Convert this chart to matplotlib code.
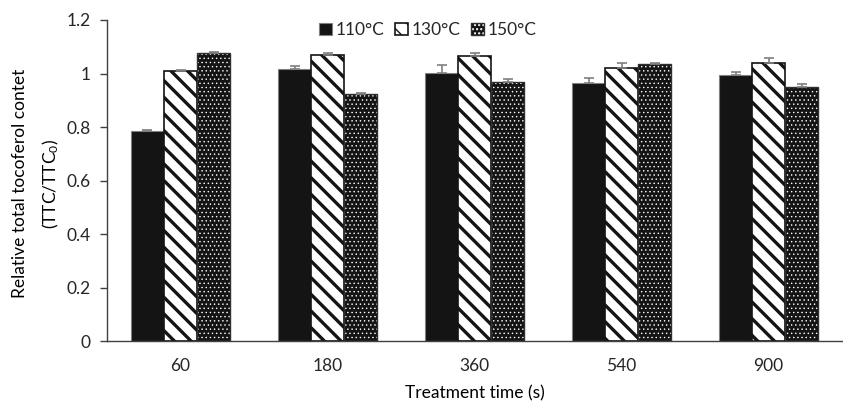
import numpy as np
import matplotlib
matplotlib.use('Agg')
import matplotlib.pyplot as plt
from matplotlib.legend_handler import HandlerTuple

# data
times = ['60', '180', '360', '540', '900']
temps = ['110°C', '130°C', '150°C']
ttc_110 = [0.785, 1.016, 1.001, 0.963, 0.993]
ttc_130 = [1.009, 1.068, 1.065, 1.022, 1.039]
ttc_150 = [1.078, 0.925, 0.969, 1.037, 0.950]
err_110 = [0.003, 0.012, 0.032, 0.020, 0.013]
err_130 = [0.003, 0.010, 0.011, 0.019, 0.018]
err_150 = [0.003, 0.003, 0.010, 0.002, 0.011]

plt.rcParams['font.family'] = ['Lato', 'DejaVu Sans']
plt.rcParams['mathtext.default'] = 'regular'
plt.rcParams['font.size'] = 12.5
plt.rcParams['text.color'] = '#262626'
plt.rcParams['xtick.color'] = '#262626'
plt.rcParams['ytick.color'] = '#262626'

fig = plt.figure(figsize=(8.43, 4.08), dpi=100)
ax = fig.add_axes([0.127, 0.164, 0.872, 0.787])

x = np.arange(len(times))
w = 0.225
dark = '#141414'
errc = '#7f7f7f'
ekw = {'elinewidth': 1.2, 'capthick': 1.2}

def upper(e):
    return [np.zeros(len(e)), e]

# 110: solid dark
b1 = ax.bar(x - w, ttc_110, w, color=dark, edgecolor='#808080', linewidth=0.8,
            yerr=upper(err_110), ecolor=errc, capsize=3.5, error_kw=ekw)

# 130: white with dark diagonal stripes
with plt.rc_context({'hatch.linewidth': 2.4}):
    b2 = ax.bar(x, ttc_130, w, facecolor='white', edgecolor=dark, linewidth=1.2,
                hatch='\\\\', yerr=upper(err_130), ecolor=errc, capsize=3.5,
                error_kw=ekw)
for p in b2:
    if hasattr(p, 'set_hatch_linewidth'):
        p.set_hatch_linewidth(2.4)

# 150: dark with white dots
with plt.rc_context({'hatch.linewidth': 0.5}):
    b3 = ax.bar(x + w, ttc_150, w, facecolor=dark, edgecolor='white', linewidth=0,
                hatch='....')
for p in b3:
    if hasattr(p, 'set_hatch_linewidth'):
        p.set_hatch_linewidth(0.5)
b3o = ax.bar(x + w, ttc_150, w, fill=False, edgecolor='#303030', linewidth=1.0,
             yerr=upper(err_150), ecolor=errc, capsize=3.5, error_kw=ekw)

ax.set_xlim(-0.5, len(times) - 0.5)
ax.set_ylim(0, 1.2)
ax.set_yticks(np.arange(0, 1.21, 0.2))
ax.set_yticklabels(['0', '0.2', '0.4', '0.6', '0.8', '1', '1.2'])
ax.set_xticks(x)
ax.set_xticklabels(times)
ax.tick_params(axis='x', length=0, pad=12)
ax.tick_params(axis='y', length=5, width=1, color='#404040', pad=7)
for s in ['top', 'right']:
    ax.spines[s].set_visible(False)
for s in ['left', 'bottom']:
    ax.spines[s].set_color('#404040')
    ax.spines[s].set_linewidth(1)

ax.set_xlabel('Treatment time (s)', labelpad=8)
ax.set_ylabel('Relative total tocoferol contet\n(TTC/TTC$_{0}$)', linespacing=1.8)
ax.yaxis.set_label_coords(-0.063, 0.49)

ax.legend([b1, b2, (b3[0], b3o[0])], temps, loc='upper center',
          bbox_to_anchor=(0.436, 1.015), ncol=3, frameon=False,
          handlelength=0.75, handleheight=0.75, handletextpad=0.2,
          columnspacing=0.6, borderaxespad=0,
          handler_map={tuple: HandlerTuple(ndivide=1)})

fig.savefig('out.png', dpi=100)
